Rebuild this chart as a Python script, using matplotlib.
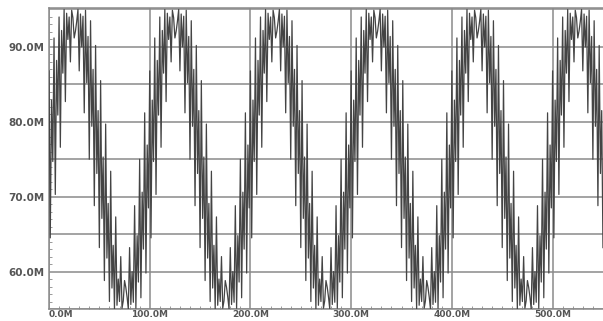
import numpy as np
import matplotlib
matplotlib.use("Agg")
import matplotlib.pyplot as plt
from matplotlib.ticker import MultipleLocator

# time axis (M units), uniform 1.25M sampling
t_step = 1.25
# signal samples (M units), eight rows per 100M period
signal = [
    86.8, 64.5, 82.9, 74.7, 91.2, 70.3, 88.2, 80.9, 94.0, 76.6,
    92.2, 86.5, 95.0, 82.7, 94.5, 91.0, 94.0, 88.0, 94.9, 93.9,
    91.2, 92.1, 93.4, 95.0, 86.8, 94.4, 90.0, 94.1, 81.2, 94.9,
    85.2, 91.4, 75.0, 93.5, 79.4, 87.0, 68.8, 90.2, 73.1, 81.5,
    63.2, 85.5, 67.1, 75.3, 58.8, 79.7, 61.8, 69.1, 56.0, 73.4,
    57.8, 63.5, 55.0, 67.3, 55.5, 59.0, 56.0, 62.0, 55.1, 56.1,
    58.8, 57.9, 56.6, 55.0, 63.2, 55.6, 60.0, 55.9, 68.8, 55.1,
    64.8, 58.6, 75.0, 56.5, 70.6, 63.0, 81.2, 59.8, 76.9, 68.5,
    86.8, 64.5, 82.9, 74.7, 91.2, 70.3, 88.2, 80.9, 94.0, 76.6,
    92.2, 86.5, 95.0, 82.7, 94.5, 91.0, 94.0, 88.0, 94.9, 93.9,
    91.2, 92.1, 93.4, 95.0, 86.8, 94.4, 90.0, 94.1, 81.2, 94.9,
    85.2, 91.4, 75.0, 93.5, 79.4, 87.0, 68.8, 90.2, 73.1, 81.5,
    63.2, 85.5, 67.1, 75.3, 58.8, 79.7, 61.8, 69.1, 56.0, 73.4,
    57.8, 63.5, 55.0, 67.3, 55.5, 59.0, 56.0, 62.0, 55.1, 56.1,
    58.8, 57.9, 56.6, 55.0, 63.2, 55.6, 60.0, 55.9, 68.8, 55.1,
    64.8, 58.6, 75.0, 56.5, 70.6, 63.0, 81.2, 59.8, 76.9, 68.5,
    86.8, 64.5, 82.9, 74.7, 91.2, 70.3, 88.2, 80.9, 94.0, 76.6,
    92.2, 86.5, 95.0, 82.7, 94.5, 91.0, 94.0, 88.0, 94.9, 93.9,
    91.2, 92.1, 93.4, 95.0, 86.8, 94.4, 90.0, 94.1, 81.2, 94.9,
    85.2, 91.4, 75.0, 93.5, 79.4, 87.0, 68.8, 90.2, 73.1, 81.5,
    63.2, 85.5, 67.1, 75.3, 58.8, 79.7, 61.8, 69.1, 56.0, 73.4,
    57.8, 63.5, 55.0, 67.3, 55.5, 59.0, 56.0, 62.0, 55.1, 56.1,
    58.8, 57.9, 56.6, 55.0, 63.2, 55.6, 60.0, 55.9, 68.8, 55.1,
    64.8, 58.6, 75.0, 56.5, 70.6, 63.0, 81.2, 59.8, 76.9, 68.5,
    86.8, 64.5, 82.9, 74.7, 91.2, 70.3, 88.2, 80.9, 94.0, 76.6,
    92.2, 86.5, 95.0, 82.7, 94.5, 91.0, 94.0, 88.0, 94.9, 93.9,
    91.2, 92.1, 93.4, 95.0, 86.8, 94.4, 90.0, 94.1, 81.2, 94.9,
    85.2, 91.4, 75.0, 93.5, 79.4, 87.0, 68.8, 90.2, 73.1, 81.5,
    63.2, 85.5, 67.1, 75.3, 58.8, 79.7, 61.8, 69.1, 56.0, 73.4,
    57.8, 63.5, 55.0, 67.3, 55.5, 59.0, 56.0, 62.0, 55.1, 56.1,
    58.8, 57.9, 56.6, 55.0, 63.2, 55.6, 60.0, 55.9, 68.8, 55.1,
    64.8, 58.6, 75.0, 56.5, 70.6, 63.0, 81.2, 59.8, 76.9, 68.5,
    86.8, 64.5, 82.9, 74.7, 91.2, 70.3, 88.2, 80.9, 94.0, 76.6,
    92.2, 86.5, 95.0, 82.7, 94.5, 91.0, 94.0, 88.0, 94.9, 93.9,
    91.2, 92.1, 93.4, 95.0, 86.8, 94.4, 90.0, 94.1, 81.2, 94.9,
    85.2, 91.4, 75.0, 93.5, 79.4, 87.0, 68.8, 90.2, 73.1, 81.5,
    63.2, 85.5, 67.1, 75.3, 58.8, 79.7, 61.8, 69.1, 56.0, 73.4,
    57.8, 63.5, 55.0, 67.3, 55.5, 59.0, 56.0, 62.0, 55.1, 56.1,
    58.8, 57.9, 56.6, 55.0, 63.2, 55.6, 60.0, 55.9, 68.8, 55.1,
    64.8, 58.6, 75.0, 56.5, 70.6, 63.0, 81.2, 59.8, 76.9, 68.5,
    86.8, 64.5, 82.9, 74.7, 91.2, 70.3, 88.2, 80.9, 94.0, 76.6,
    92.2, 86.5, 95.0, 82.7, 94.5, 91.0, 94.0, 88.0, 94.9, 93.9,
    91.2, 92.1, 93.4, 95.0, 86.8, 94.4, 90.0, 94.1, 81.2, 94.9,
    85.2, 91.4, 75.0, 93.5, 79.4, 87.0, 68.8, 90.2, 73.1, 81.5,
    63.2,
]
t = np.arange(len(signal)) * t_step

x_ticks = [0, 100, 200, 300, 400, 500]
x_labels = ["0.0M", "100.0M", "200.0M", "300.0M", "400.0M", "500.0M"]
y_ticks = [55, 60, 65, 70, 75, 80, 85, 90, 95]
y_labels = ["", "60.0M", "", "70.0M", "", "80.0M", "", "90.0M", ""]

W, H = 603, 321
fig = plt.figure(figsize=(W / 100, H / 100), dpi=100)
fig.patch.set_facecolor("white")
ax = fig.add_axes([49 / W, 12 / H, 560 / W, 301 / H])

ax.plot(t, signal, color="#444444", lw=0.9, zorder=3)

ax.set_xlim(0, 556)
ax.set_ylim(55, 95.2)

ax.set_xticks(x_ticks)
ax.set_xticklabels(x_labels)
ax.set_yticks(y_ticks)
ax.set_yticklabels(y_labels)
ax.xaxis.set_minor_locator(MultipleLocator(10))
ax.yaxis.set_minor_locator(MultipleLocator(1))

ax.grid(True, which="major", color="#8a8a8a", lw=1.1, zorder=1)
ax.tick_params(which="major", length=0, labelcolor="#555555")
ax.tick_params(axis="x", which="major", pad=1, labelsize=6.5)
ax.tick_params(axis="y", which="major", pad=3, labelsize=7.5)
ax.tick_params(which="minor", direction="in", length=2, color="#999999", width=0.7)

for lbl in ax.get_xticklabels():
    lbl.set_fontweight("bold")
ax.get_xticklabels()[0].set_horizontalalignment("left")
for lbl in ax.get_yticklabels():
    lbl.set_fontweight("bold")

for side in ["left", "bottom", "top"]:
    ax.spines[side].set_color("#8a8a8a")
    ax.spines[side].set_linewidth(1.1)
ax.spines["right"].set_visible(False)

fig.savefig("out.png", dpi=100, facecolor="white")
